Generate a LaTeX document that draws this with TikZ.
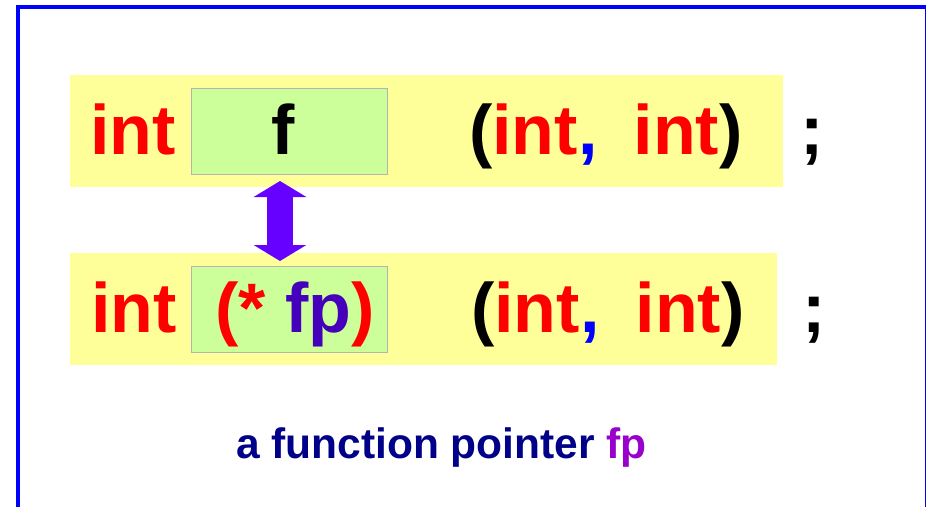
\documentclass[tikz,border=0pt]{standalone}
\usepackage{fontspec}
\setmainfont{Liberation Sans}
\usetikzlibrary{arrows.meta}
\definecolor{bandyellow}{HTML}{FFFF99}
\definecolor{boxgreen}{HTML}{CCFF99}
\definecolor{boxedge}{HTML}{B4B4B4}
\definecolor{arrowviolet}{HTML}{6600FF}
\definecolor{fpblue}{HTML}{4400BB}
\definecolor{capnavy}{HTML}{000088}
\definecolor{fpviolet}{HTML}{9900CC}
\definecolor{kwred}{HTML}{FF0000}
\definecolor{commablue}{HTML}{0000FF}
\definecolor{framebl}{HTML}{0000FF}
\begin{document}
\begin{tikzpicture}[x=1pt,y=-1pt,
  band/.style={fill=bandyellow, inner sep=0, outer sep=0, anchor=north west},
  greenbox/.style={fill=boxgreen, draw=boxedge, line width=1pt, inner sep=0, outer sep=0, anchor=north west, minimum width=196pt, minimum height=86pt},
  code/.style={font=\fontsize{70}{80}\selectfont\bfseries, inner sep=0, anchor=base west},
  captext/.style={font=\fontsize{42.5}{50}\selectfont\bfseries, inner sep=0, anchor=base},
  bothways/.style={draw=arrowviolet, line width=26pt, {Triangle[width=52pt,length=16pt]}-{Triangle[width=52pt,length=16pt]}}]
\useasboundingbox (0,0) rectangle (926,506);
\fill[white] (0,0) rectangle (926,506);
\draw[framebl, line width=4pt] (17.5,6.7) rectangle (926.7,530);
% bands
\node[band, minimum width=713pt, minimum height=112pt] (band1) at (70,75) {};
\node[band, minimum width=707pt, minimum height=112pt] (band2) at (70,253) {};
% green boxes
\node[greenbox] (fbox) at (191,88) {};
\node[greenbox] (fpbox) at (191,266) {};
% upper row
\node[code, text=kwred] (int1) at (90.3,154) {int};
\node[code] (f) at (271.5,154) {f};
\node[code] (args1) at (469,154) {(\textcolor{kwred}{int}\textcolor{commablue}{,}\hspace{36.2pt}\textcolor{kwred}{int})};
\node[code] (semi1) at (800,154) {;};
% lower row
\node[code, text=kwred] (int2) at (91,332) {int};
\node[code] (fp) at (215,332) {\textcolor{kwred}{(*} \textcolor{fpblue}{fp}\textcolor{kwred}{)}};
\node[code] (args2) at (471,332) {(\textcolor{kwred}{int}\textcolor{commablue}{,}\hspace{36.2pt}\textcolor{kwred}{int})};
\node[code] (semi2) at (802,332) {;};
% arrow
\draw[bothways] ([xshift=-9pt,yshift=-7pt]fbox.south) -- ([xshift=-9pt,yshift=5pt]fpbox.north);
% caption
\node[captext, text=capnavy] (cap) at (441.5,458) {a function pointer \textcolor{fpviolet}{fp}};
\end{tikzpicture}
\end{document}
